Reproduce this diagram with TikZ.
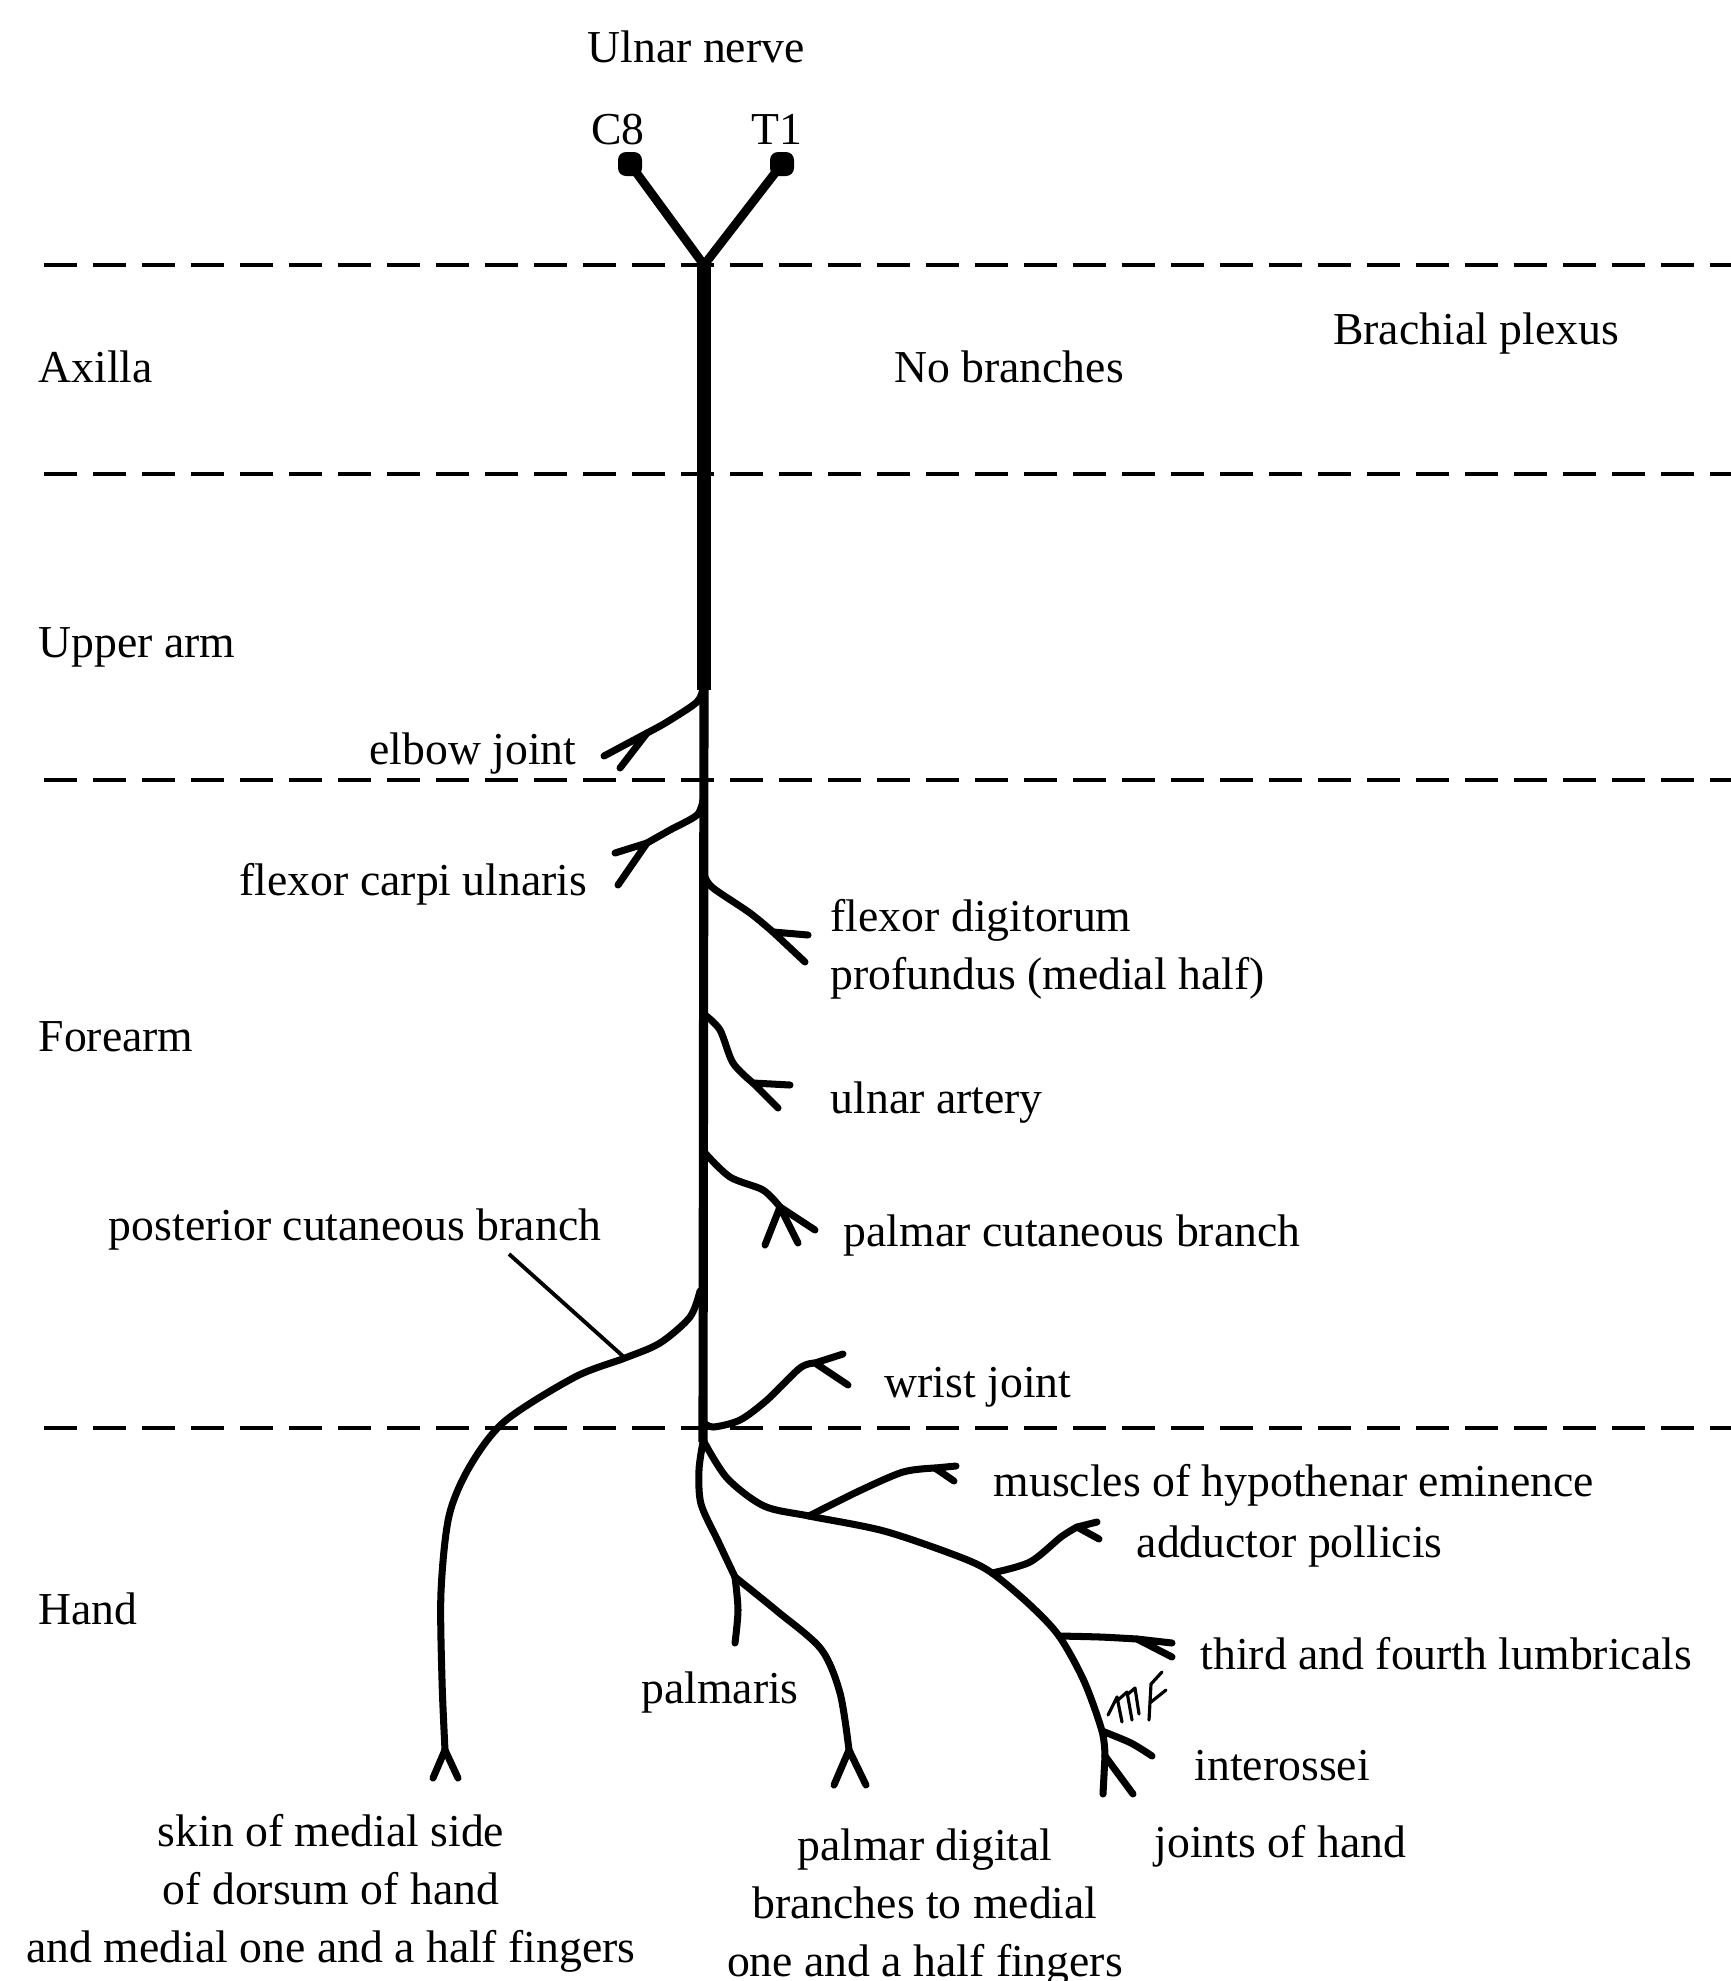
\documentclass[tikz,border=0pt]{standalone}
\usepackage{fontspec}
\setmainfont{Liberation Serif}
\usetikzlibrary{positioning}

\tikzset{
  nerve/.style={line width=2pt, line cap=round, line join=round},
  level/.style={line width=1.2pt, dash pattern=on 3.3mm off 1.6mm},
  txt/.style={font=\fontsize{13}{16.5}\selectfont, inner sep=0pt},
  root/.style={fill, rounded corners=0.8mm, minimum size=2.4mm, inner sep=0pt},
}
\newcommand\fork[3]{\draw[nerve] (#2) -- (#1) -- (#3);}

\begin{document}
\begin{tikzpicture}[x=0.1mm, y=-0.1mm]
\useasboundingbox (0,0) rectangle (1731,1981);

\foreach \y in {265,474,780,1428}
  \draw[level] (44,\y) -- (1731,\y);

% roots and trunk
\node[txt, anchor=base] (title) at (696,62) {Ulnar nerve};
\node[txt, anchor=base] (c8lbl) at (618,144) {C8};
\node[txt, anchor=base] (t1lbl) at (777,144) {T1};
\node[root] (c8) at (630,164) {};
\node[root] (t1) at (782,164) {};
\coordinate (top) at (704,265);
\coordinate (mid) at (704,690);
\coordinate (low) at (703,1442);
\draw[nerve, line width=2.5pt] (c8.center) -- (top) -- (t1.center);
\draw[line width=4pt] (top) -- (mid);
\draw[line width=2.6pt] (mid) -- (low);

% regions
\node[txt, anchor=base west] (axilla) at (38,382) {Axilla};
\node[txt, anchor=base west] (upper) at (38,657) {Upper arm};
\node[txt, anchor=base west] (forearm) at (38,1051) {Forearm};
\node[txt, anchor=base west] (hand) at (38,1624) {Hand};
\node[txt, anchor=base] (plexus) at (1476,344) {Brachial plexus};
\node[txt, anchor=base] (nobr) at (1009,382) {No branches};

% forearm branches
\draw[nerve] plot[smooth] coordinates {(703,688) (697,702) (667,722) (647,733)};
\fork{647,733}{604,756}{620,768}
\node[txt, anchor=base east] (elbow) at (577,764) {elbow joint};

\draw[nerve] plot[smooth] coordinates {(703,800) (697,815) (670,830) (647,843)};
\fork{647,843}{615,853}{618,885}
\node[txt, anchor=base east] (fcu) at (588,895) {flexor carpi ulnaris};

\draw[nerve] plot[smooth] coordinates {(705,877) (713,888) (750,913) (773,932)};
\fork{773,932}{808,935}{805,962}
\node[txt, anchor=base west, align=left] (fdp) at (830,989) {flexor digitorum\\profundus (medial half)};

\draw[nerve] plot[smooth] coordinates {(705,1015) (720,1030) (733,1063) (753,1083)};
\fork{753,1083}{790,1085}{778,1108}
\node[txt, anchor=base west] (artery) at (830,1113) {ulnar artery};

\draw[nerve] plot[smooth] coordinates {(705,1153) (730,1177) (763,1190) (780,1207)};
\fork{780,1207}{765,1245}{798,1243}
\draw[nerve] (780,1207) -- (815,1230);
\node[txt, anchor=base west] (palmcut) at (843,1246) {palmar cutaneous branch};

% dorsal branch
\coordinate (ptrtop) at (509,1254);
\coordinate (ptrend) at (625,1358);
\draw[nerve] plot[smooth] coordinates {(700,1291) (690,1317) (660,1343) (625,1358) (575,1377)
  (505,1421) (470,1466) (449,1516) (441,1592) (442,1680) (445,1750)};
\fork{445,1750}{433,1778}{458,1778}
\node[txt, anchor=base] (post) at (355,1240) {posterior cutaneous branch};
\draw[line width=1.1pt] (ptrtop) -- (ptrend);

\draw[nerve] plot[smooth] coordinates {(703,1422) (713,1427) (740,1420) (767,1400) (800,1368) (815,1363)};
\fork{815,1363}{843,1354}{848,1385}
\node[txt, anchor=base west] (wrist) at (884,1397) {wrist joint};

% hand
\draw[nerve] plot[smooth] coordinates {(703,1440) (727,1478) (764,1506) (809,1516) (884,1531)
  (960,1557) (992,1573) (1030,1605) (1059,1636) (1084,1681) (1102,1731) (1105,1756)};
\fork{1105,1756}{1103,1794}{1133,1794}
\draw[nerve] plot[smooth] coordinates {(809,1516) (859,1491) (903,1472) (935,1468)};
\fork{935,1468}{956,1466}{954,1481}
\draw[nerve] plot[smooth] coordinates {(992,1573) (1030,1562) (1061,1537) (1077,1527)};
\fork{1077,1527}{1097,1522}{1099,1539}
\draw[nerve] plot[smooth] coordinates {(1059,1636) (1100,1637) (1137,1639)};
\fork{1137,1639}{1172,1643}{1172,1657}
\draw[nerve] plot[smooth] coordinates {(1102,1731) (1131,1743) (1152,1756)};
\draw[nerve] plot[smooth] coordinates {(703,1442) (699,1470) (701,1504) (718,1541) (735,1577)};
\draw[nerve] plot[smooth] coordinates {(735,1577) (738,1610) (735,1643)};
\draw[nerve] plot[smooth] coordinates {(735,1577) (777,1611) (821,1649) (840,1693) (849,1750)};
\fork{849,1750}{834,1785}{866,1785}

\draw[line width=0.9pt, line cap=round, line join=round]
  (1108,1715) -- (1117,1697) -- (1122,1722)
  (1118,1700) -- (1127,1692) -- (1132,1720)
  (1128,1694) -- (1135,1688) -- (1139,1714)
  (1162,1672) -- (1151,1684) -- (1149,1720)
  (1151,1702) -- (1166,1690);

\node[txt, anchor=base west] (hypo) at (993,1496) {muscles of hypothenar eminence};
\node[txt, anchor=base west] (addu) at (1136,1557) {adductor pollicis};
\node[txt, anchor=base west] (lumb) at (1200,1669) {third and fourth lumbricals};
\node[txt, anchor=base] (palmaris) at (720,1703) {palmaris};
\node[txt, anchor=base west] (inter) at (1194,1780) {interossei};
\node[txt, anchor=base west] (joints) at (1154,1857) {joints of hand};
\node[txt, anchor=base, align=center] (skin) at (331,1962) {skin of medial side\\of dorsum of hand\\and medial one and a half fingers};
\node[txt, anchor=base, align=center] (digital) at (925,1976) {palmar digital\\branches to medial\\one and a half fingers};
\end{tikzpicture}
\end{document}
